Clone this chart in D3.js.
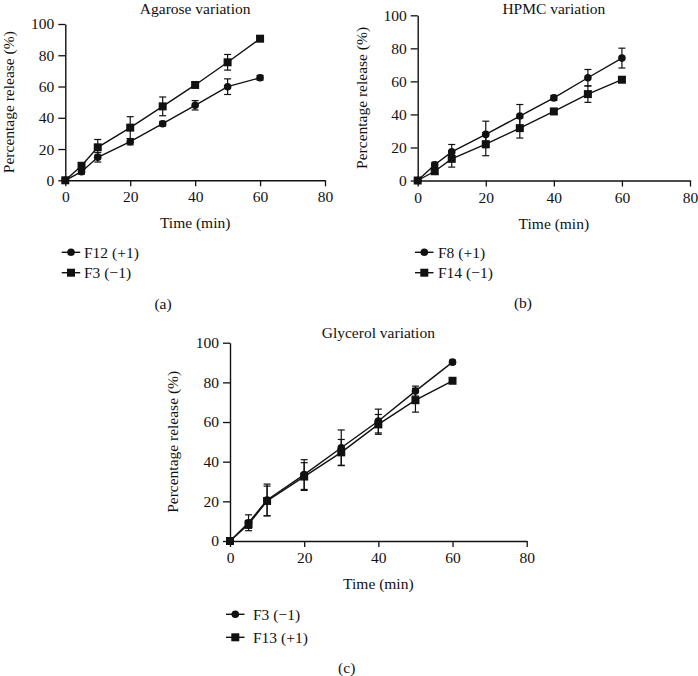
<!DOCTYPE html>
<html>
<head>
<meta charset="utf-8">
<script src="https://cdn.jsdelivr.net/npm/d3@7"></script>
<style>
  html, body { margin: 0; padding: 0; background: #fff; }
  svg { display: block; }
  text { font-family: "Liberation Serif", "DejaVu Serif", serif; fill: #111; }
</style>
</head>
<body>
<div id="chart"></div>
<script>
// ---------------- data ----------------
const timePoints = [0, 5, 10, 20, 30, 40, 50, 60];
const xTicks = [0, 20, 40, 60, 80];
const yTicks = [0, 20, 40, 60, 80, 100];
const xLabel = "Time (min)";
const yLabel = "Percentage release (%)";

const panelTitles = ["Agarose variation", "HPMC variation", "Glycerol variation"];
const panelLetters = ["(a)", "(b)", "(c)"];

// (a) Agarose variation
const agaroseNames = ["F12 (+1)", "F3 (\u22121)"];
const agaroseF12 = [0, 5.5, 14.7, 24.7, 36.2, 48.0, 59.9, 65.6];
const agaroseF12Err = [0, 1.5, 3.0, 2.0, 1.5, 3.0, 5.0, 1.5];
const agaroseF3 = [0, 9.3, 21.1, 33.7, 47.3, 61.0, 75.5, 90.6];
const agaroseF3Err = [0, 1.5, 5.0, 7.0, 6.0, 1.0, 5.0, 1.0];

// (b) HPMC variation
const hpmcNames = ["F8 (+1)", "F14 (\u22121)"];
const hpmcF8 = [0, 9.5, 17.3, 27.9, 39.0, 50.0, 62.2, 74.1];
const hpmcF8Err = [0, 1.5, 4.5, 8.0, 7.0, 1.5, 5.0, 6.0];
const hpmcF14 = [0, 5.6, 13.1, 22.0, 31.7, 41.8, 52.3, 61.0];
const hpmcF14Err = [0, 1.5, 5.0, 7.0, 6.0, 1.5, 5.0, 1.0];

// (c) Glycerol variation
const glycerolNames = ["F3 (\u22121)", "F13 (+1)"];
const glycerolF3 = [0, 9.2, 20.7, 33.5, 47.0, 60.5, 75.6, 90.2];
const glycerolF3Err = [0, 4.0, 8.0, 7.5, 9.0, 6.0, 2.5, 1.0];
const glycerolF13 = [0, 8.4, 20.2, 32.5, 44.7, 58.8, 71.0, 80.8];
const glycerolF13Err = [0, 2.0, 7.5, 7.0, 6.5, 5.0, 6.0, 1.0];

// ---------------- drawing ----------------
const W = 698, H = 676;
const svg = d3.select("#chart").append("svg")
  .attr("width", W).attr("height", H)
  .attr("viewBox", `0 0 ${W} ${H}`);
svg.append("rect").attr("width", W).attr("height", H).attr("fill", "#fff");

const FS = 15.5;

const panels = [
  { x0: 65.3, x1: 325, y0: 180.3, y1: 24, titleY: 13.5, ylabX: 9, legY: 252.3, legGap: 20.4,
    legLineX: 61.7, legTextX: 84, letterX: 163, letterY: 309,
    names: agaroseNames, s1: agaroseF12, e1: agaroseF12Err, s2: agaroseF3, e2: agaroseF3Err },
  { x0: 417.7, x1: 690, y0: 180.5, y1: 15.3, titleY: 13.5, ylabX: 362, legY: 252.3, legGap: 20.4,
    legLineX: 415, legTextX: 438, letterX: 523, letterY: 308,
    names: hpmcNames, s1: hpmcF8, e1: hpmcF8Err, s2: hpmcF14, e2: hpmcF14Err },
  { x0: 230, x1: 526.7, y0: 541, y1: 342.7, titleY: 338, ylabX: 173, legY: 614.3, legGap: 23,
    legLineX: 226, legTextX: 253, letterX: 346.7, letterY: 673,
    names: glycerolNames, s1: glycerolF3, e1: glycerolF3Err, s2: glycerolF13, e2: glycerolF13Err }
];

function drawMarker(g, type, cx, cy) {
  if (type === "circle") {
    g.append("circle").attr("cx", cx).attr("cy", cy).attr("r", 3.8).attr("fill", "#111");
  } else {
    const s = 8;
    g.append("rect").attr("x", cx - s / 2).attr("y", cy - s / 2)
      .attr("width", s).attr("height", s).attr("fill", "#111");
  }
}

panels.forEach((p, i) => {
  const g = svg.append("g");
  const x = d3.scaleLinear().domain([0, 80]).range([p.x0, p.x1]);
  const y = d3.scaleLinear().domain([0, 100]).range([p.y0, p.y1]);

  const xAxis = g.append("g").attr("transform", `translate(0,${p.y0})`)
    .call(d3.axisBottom(x).tickValues(xTicks).tickSize(6).tickSizeOuter(0).tickPadding(5));
  const yAxis = g.append("g").attr("transform", `translate(${p.x0},0)`)
    .call(d3.axisLeft(y).tickValues(yTicks).tickSize(7).tickSizeOuter(0).tickPadding(4));
  [xAxis, yAxis].forEach(ax => {
    ax.selectAll("path.domain").attr("stroke", "#111").attr("stroke-width", 1.4);
    ax.selectAll(".tick line").attr("stroke", "#111").attr("stroke-width", 1.3);
    ax.selectAll(".tick text").attr("font-size", FS).attr("fill", "#111")
      .attr("font-family", '"Liberation Serif", "DejaVu Serif", serif');
  });

  // title
  g.append("text").attr("x", (p.x0 + p.x1) / 2).attr("y", p.titleY)
    .attr("text-anchor", "middle").attr("font-size", FS).text(panelTitles[i]);
  // x label
  g.append("text").attr("x", (p.x0 + p.x1) / 2).attr("y", p.y0 + 48)
    .attr("text-anchor", "middle").attr("font-size", FS).text(xLabel);
  // y label
  g.append("text")
    .attr("transform", `translate(${p.ylabX + 5},${(p.y0 + p.y1) / 2}) rotate(-90)`)
    .attr("text-anchor", "middle").attr("font-size", FS).text(yLabel);

  const series = [
    { vals: p.s1, errs: p.e1, type: "circle" },
    { vals: p.s2, errs: p.e2, type: "square" }
  ];

  const line = d3.line().x(d => x(d.t)).y(d => y(d.v));

  series.forEach(s => {
    const pts = timePoints.map((t, k) => ({ t, v: s.vals[k], e: s.errs[k] }));
    // error bars
    const eb = g.append("g").attr("stroke", "#111").attr("stroke-width", 1.2);
    pts.filter(d => d.e > 0).forEach(d => {
      const cx = x(d.t);
      eb.append("line").attr("x1", cx).attr("x2", cx).attr("y1", y(d.v - d.e)).attr("y2", y(d.v + d.e));
      eb.append("line").attr("x1", cx - 3.5).attr("x2", cx + 3.5).attr("y1", y(d.v + d.e)).attr("y2", y(d.v + d.e));
      eb.append("line").attr("x1", cx - 3.5).attr("x2", cx + 3.5).attr("y1", y(d.v - d.e)).attr("y2", y(d.v - d.e));
    });
    g.append("path").datum(pts).attr("d", line)
      .attr("fill", "none").attr("stroke", "#111").attr("stroke-width", 1.4);
    const mg = g.append("g");
    pts.forEach(d => drawMarker(mg, s.type, x(d.t), y(d.v)));
  });

  // legend
  series.forEach((s, k) => {
    const ly = p.legY + k * p.legGap;
    g.append("line").attr("x1", p.legLineX).attr("x2", p.legLineX + 18.5)
      .attr("y1", ly).attr("y2", ly).attr("stroke", "#111").attr("stroke-width", 1.4);
    drawMarker(g, s.type, p.legLineX + 9.3, ly);
    g.append("text").attr("x", p.legTextX).attr("y", ly + 5.2)
      .attr("font-size", FS).text(p.names[k]);
  });

  // panel letter
  g.append("text").attr("x", p.letterX).attr("y", p.letterY)
    .attr("text-anchor", "middle").attr("font-size", FS).text(panelLetters[i]);
});
</script>
</body>
</html>
